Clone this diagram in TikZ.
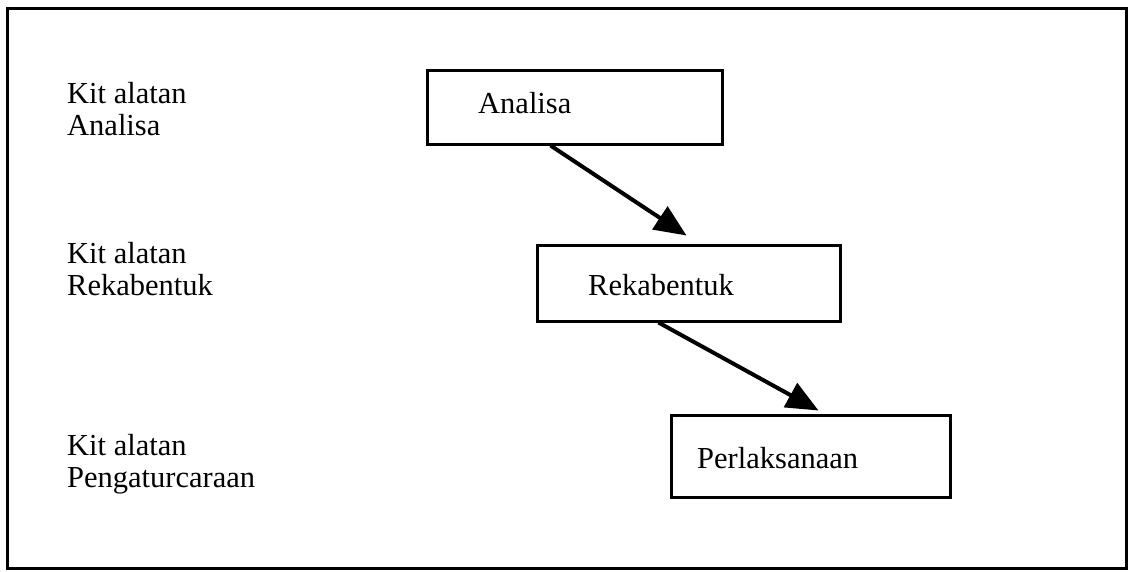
\documentclass[tikz,border=0pt]{standalone}
\usepackage{fontspec}
\setmainfont{Liberation Serif}
\usetikzlibrary{arrows.meta}
\begin{document}
\begin{tikzpicture}[x=1pt,y=-1pt,
  stagebox/.style={draw=black, line width=3pt, inner sep=0pt, rectangle},
  lbl/.style={anchor=base west, inner sep=0pt, align=left,
    font=\fontsize{30.5}{32}\selectfont},
  boxtext/.style={anchor=base west, inner sep=0pt,
    font=\fontsize{30.5}{32}\selectfont},
  flow/.style={line width=4pt, -{Triangle[length=32pt,width=27pt]}}]
\useasboundingbox (0,0) rectangle (1129,571);
\draw[line width=3pt] (7,8) rectangle (1126,568);
% left labels
\node[lbl] (la) at (67,135) {Kit alatan\\Analisa};
\node[lbl] (lr) at (67,295) {Kit alatan\\Rekabentuk};
\node[lbl] (lp) at (67,487) {Kit alatan\\Pengaturcaraan};
% boxes
\node[stagebox, minimum width=295pt, minimum height=74pt] (A) at (574.5,107) {};
\node[boxtext] (at) at (478,113) {Analisa};
\node[stagebox, minimum width=303pt, minimum height=76pt] (R) at (688.5,283) {};
\node[boxtext] (rt) at (588,295) {Rekabentuk};
\node[stagebox, minimum width=279pt, minimum height=82pt] (P) at (810.5,456) {};
\node[boxtext] (pt) at (697,468) {Perlaksanaan};
% arrows
\draw[flow] ([xshift=125pt]A.south west) -- ([xshift=151pt,yshift=8pt]R.north west);
\draw[flow] ([xshift=123pt]R.south west) -- ([xshift=149pt,yshift=3pt]P.north west);
\end{tikzpicture}
\end{document}
